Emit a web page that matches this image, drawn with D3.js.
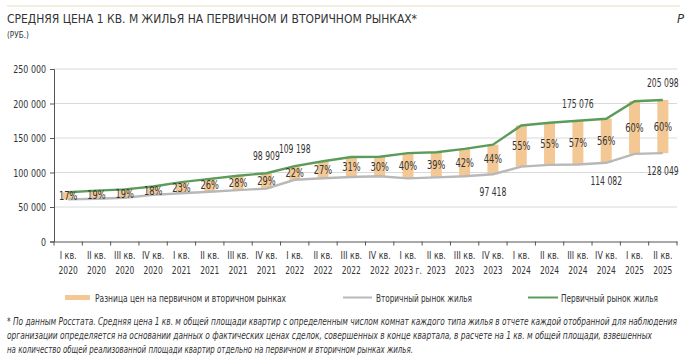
<!DOCTYPE html>
<html>
<head>
<meta charset="utf-8">
<script src="https://cdn.jsdelivr.net/npm/d3@7"></script>
<style>
  body { margin: 0; background: #fff; }
  text { font-family: "Liberation Sans Narrow", "DejaVu Sans Condensed", "Roboto", sans-serif; fill: #333; }
</style>
</head>
<body>
<svg id="chart" width="685" height="363"></svg>
<script>
// quarters
var quarters = ["I кв.", "II кв.", "III кв.", "IV кв.", "I кв.", "II кв.", "III кв.", "IV кв.",
    "I кв.", "II кв.", "III кв.", "IV кв.", "I кв.", "II кв.", "III кв.", "IV кв.",
    "I кв.", "II кв.", "III кв.", "IV кв.", "I кв.", "II кв."];
var years = ["2020", "2020", "2020", "2020", "2021", "2021", "2021", "2021",
    "2022", "2022", "2022", "2022", "2023 г.", "2023", "2023", "2023",
    "2024", "2024", "2024", "2024", "2025", "2025"];

// руб. за кв. м
var primary = [71400, 73800, 75600, 79650, 86100, 90700, 95360, 98909,
    109198, 116300, 122500, 122850, 128100, 129300, 134190, 140282,
    168175, 172050, 175076, 177968, 203200, 205098];
var secondary = [61000, 62000, 63500, 67500, 70000, 72000, 74500, 76674,
    89507, 91600, 93500, 94500, 91500, 93000, 94500, 97418,
    108500, 111000, 111513, 114082, 127000, 128049];
var diffPct = [17, 19, 19, 18, 23, 26, 28, 29, 22, 27, 31, 30, 40, 39, 42, 44, 55, 55, 57, 56, 60, 60];

// подписанные значения: индекс, ряд
var valueLabels = [
    {i: 7, s: "p"}, {i: 8, s: "p"}, {i: 15, s: "s"}, {i: 18, s: "p"},
    {i: 19, s: "s"}, {i: 21, s: "p"}, {i: 21, s: "s"}
];
var yTicks = [0, 50000, 100000, 150000, 200000, 250000];

var svg = d3.select("#chart");
var mLeft = 54, mRight = 677, mTop = 69, mBottom = 241.5;

var x = d3.scaleBand().domain(d3.range(quarters.length)).range([mLeft, mRight]);
var y = d3.scaleLinear().domain([0, 250000]).range([mBottom, mTop]);
var fmt = function (v) { return d3.format(",")(v).replace(/,/g, " "); };
var cx = function (i) { return x(i) + x.bandwidth() / 2; };

// the source uses a narrow font, squeeze ours to match
function condense(sel, k) {
    sel.each(function () {
        var w = this.getComputedTextLength();
        d3.select(this).attr("textLength", w * k).attr("lengthAdjust", "spacingAndGlyphs");
    });
}

// header
svg.append("line").attr("x1", 7).attr("x2", 680).attr("y1", 6).attr("y2", 6)
    .attr("stroke", "#efe8d6").attr("stroke-width", 1.5);
svg.append("text").attr("x", 7).attr("y", 23).attr("font-size", 13)
    .attr("textLength", 410).attr("lengthAdjust", "spacingAndGlyphs")
    .text("СРЕДНЯЯ ЦЕНА 1 КВ. М ЖИЛЬЯ НА ПЕРВИЧНОМ И ВТОРИЧНОМ РЫНКАХ*");
svg.append("text").attr("x", 7).attr("y", 38).attr("font-size", 9.5).text("(РУБ.)")
    .call(condense, 0.85);
svg.append("text").attr("x", 684).attr("y", 23).attr("font-size", 13)
    .attr("text-anchor", "end").attr("font-style", "italic").text("Р");

// grid
svg.append("g").selectAll("line").data(yTicks.slice(1)).join("line")
    .attr("x1", mLeft).attr("x2", mRight)
    .attr("y1", function (d) { return y(d); }).attr("y2", function (d) { return y(d); })
    .attr("stroke", "#d9d9d9").attr("stroke-width", 1.2);

// axes
var yAxis = svg.append("g").attr("transform", "translate(" + mLeft + ",0)")
    .call(d3.axisLeft(y).tickValues(yTicks).tickSize(4).tickFormat(fmt));
yAxis.selectAll("text").attr("font-size", 11).attr("x", -8).style("fill", "#333")
    .call(condense, 0.8);
yAxis.selectAll("line, path").attr("stroke", "#555");

var xAxis = svg.append("g").attr("transform", "translate(0," + mBottom + ")")
    .call(d3.axisBottom(x).tickSize(0).tickFormat(""));
xAxis.selectAll(".tick").remove();
xAxis.select(".domain").attr("stroke", "#555");
svg.append("g").selectAll("line").data(d3.range(quarters.length + 1)).join("line")
    .attr("x1", function (d) { return mLeft + d * x.step(); })
    .attr("x2", function (d) { return mLeft + d * x.step(); })
    .attr("y1", mBottom).attr("y2", mBottom + 4).attr("stroke", "#555");

svg.append("g").selectAll("text").data(quarters).join("text")
    .attr("text-anchor", "middle").attr("font-size", 11)
    .attr("x", function (d, i) { return cx(i); }).attr("y", 259)
    .text(function (d) { return d; })
    .call(condense, 0.8);
svg.append("g").selectAll("text").data(years).join("text")
    .attr("text-anchor", "middle").attr("font-size", 11)
    .attr("x", function (d, i) { return cx(i); }).attr("y", 274)
    .text(function (d) { return d; })
    .call(condense, 0.76);

// bars of the difference
var bw = 11;
svg.append("g").selectAll("rect").data(primary).join("rect")
    .attr("x", function (d, i) { return cx(i) - bw / 2; })
    .attr("width", bw)
    .attr("y", function (d) { return y(d); })
    .attr("height", function (d, i) { return y(secondary[i]) - y(d); })
    .attr("fill", "#f3c894");

var line = d3.line()
    .x(function (d, i) { return cx(i); })
    .y(function (d) { return y(d); });
svg.append("path").datum(secondary).attr("d", line).attr("fill", "none")
    .attr("stroke", "#b8b8b8").attr("stroke-width", 2.4);
svg.append("path").datum(primary).attr("d", line).attr("fill", "none")
    .attr("stroke", "#5c9c5a").attr("stroke-width", 2.4);

// percentages
svg.append("g").selectAll("text").data(diffPct).join("text")
    .attr("text-anchor", "middle").attr("font-size", 11.5)
    .attr("x", function (d, i) { return cx(i); })
    .attr("y", function (d, i) { return (y(primary[i]) + y(secondary[i])) / 2 + 4; })
    .text(function (d) { return d + "%"; })
    .call(condense, 0.8);

// values
svg.append("g").selectAll("text").data(valueLabels).join("text")
    .attr("text-anchor", "middle").attr("font-size", 11.5)
    .attr("x", function (d) { return cx(d.i); })
    .attr("y", function (d) {
        return d.s === "p" ? y(primary[d.i]) - 13 : y(secondary[d.i]) + 22;
    })
    .text(function (d) { return fmt(d.s === "p" ? primary[d.i] : secondary[d.i]); })
    .call(condense, 0.74);

// legend
var lg = svg.append("g");
lg.append("rect").attr("x", 65).attr("y", 295).attr("width", 25).attr("height", 5).attr("fill", "#f3c894");
lg.append("text").attr("x", 95).attr("y", 301.5).attr("font-size", 10.5)
    .attr("textLength", 191).attr("lengthAdjust", "spacingAndGlyphs")
    .text("Разница цен на первичном и вторичном рынках");
lg.append("line").attr("x1", 343).attr("x2", 372).attr("y1", 297.5).attr("y2", 297.5)
    .attr("stroke", "#b8b8b8").attr("stroke-width", 2);
lg.append("text").attr("x", 376).attr("y", 301.5).attr("font-size", 10.5)
    .attr("textLength", 96).attr("lengthAdjust", "spacingAndGlyphs")
    .text("Вторичный рынок жилья");
lg.append("line").attr("x1", 528).attr("x2", 558).attr("y1", 297.5).attr("y2", 297.5)
    .attr("stroke", "#5c9c5a").attr("stroke-width", 2);
lg.append("text").attr("x", 561).attr("y", 301.5).attr("font-size", 10.5)
    .attr("textLength", 97).attr("lengthAdjust", "spacingAndGlyphs")
    .text("Первичный рынок жилья");

// footnote
var notes = [
    "* По данным Росстата. Средняя цена 1 кв. м общей площади квартир с определенным числом комнат каждого типа жилья в отчете каждой отобранной для наблюдения",
    "организации определяется на основании данных о фактических ценах сделок, совершенных в конце квартала, в расчете на 1 кв. м общей площади, взвешенных",
    "на количество общей реализованной площади квартир отдельно на первичном и вторичном рынках жилья."
];
var noteWidths = [670, 645, 406];
svg.append("g").selectAll("text").data(notes).join("text")
    .attr("x", 7).attr("y", function (d, i) { return 325 + i * 14; })
    .attr("font-size", 9.6).attr("font-style", "italic")
    .attr("textLength", function (d, i) { return noteWidths[i]; })
    .attr("lengthAdjust", "spacingAndGlyphs")
    .text(function (d) { return d; });
</script>
</body>
</html>
